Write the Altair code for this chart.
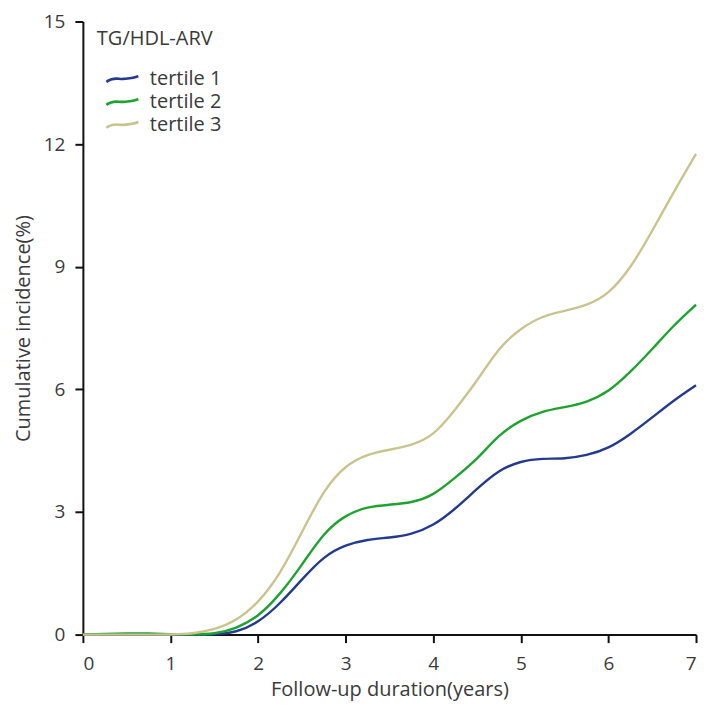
import altair as alt
import pandas as pd

years = [0, 0.25, 0.5, 0.75, 1.0, 1.25, 1.5, 1.75, 2.0, 2.25, 2.5, 2.75, 3.0,
         3.25, 3.5, 3.75, 4.0, 4.25, 4.5, 4.75, 5.0, 5.25, 5.5, 5.75, 6.0,
         6.25, 6.5, 6.75, 7.0]

tertile1 = [0, 0, 0, 0, 0, 0, 0.0, 0.05, 0.29, 0.75, 1.35, 1.92, 2.2,
            2.33, 2.37, 2.45, 2.66, 3.07, 3.57, 4.03, 4.25, 4.31, 4.3, 4.38, 4.55,
            4.9, 5.31, 5.74, 6.1]
tertile2 = [0, 0.02, 0.03, 0.03, 0.01, 0.0, 0.01, 0.15, 0.43, 0.98, 1.7, 2.5, 2.93,
            3.13, 3.18, 3.22, 3.4, 3.84, 4.28, 4.9, 5.25, 5.47, 5.56, 5.68, 5.93,
            6.42, 6.98, 7.58, 8.07]
tertile3 = [0, 0, 0, 0, 0, 0.02, 0.12, 0.33, 0.77, 1.47, 2.5, 3.55, 4.15,
            4.42, 4.52, 4.63, 4.85, 5.5, 6.2, 7.03, 7.5, 7.8, 7.92, 8.05, 8.32,
            8.95, 9.87, 10.85, 11.76]

series_names = ["tertile 1", "tertile 2", "tertile 3"]
series_colors = ["#233a8e", "#1fa32f", "#c9c48e"]
x_ticks = [0, 1, 2, 3, 4, 5, 6, 7]
y_ticks = [0, 3, 6, 9, 12, 15]

rows = []
for name, vals in zip(series_names, [tertile1, tertile2, tertile3]):
    for x, v in zip(years, vals):
        rows.append({"year": x, "value": v, "group": name})
df = pd.DataFrame(rows)

# wavy legend glyph (unit = half the symbol box)
wave = "M-0.2,0.3 C0.5,-0.25 1.0,0.05 1.5,0.0 C2.1,-0.05 2.5,-0.05 3.0,-0.28"

TEXT = "#3a3a3a"

chart = alt.Chart(df).mark_line(interpolate="basis", strokeWidth=2.4).encode(
    x=alt.X("year:Q",
            scale=alt.Scale(domain=[0, 7], nice=False, zero=False),
            axis=alt.Axis(values=x_ticks, title="Follow-up duration(years)",
                          format="d")),
    y=alt.Y("value:Q",
            scale=alt.Scale(domain=[0, 15], nice=False),
            axis=alt.Axis(values=y_ticks, title="Cumulative incidence(%)",
                          format="d")),
    color=alt.Color("group:N",
                    scale=alt.Scale(domain=series_names, range=series_colors),
                    legend=alt.Legend(title="TG/HDL-ARV", orient="none",
                                      legendX=14, legendY=8,
                                      symbolType=wave, symbolSize=400,
                                      symbolStrokeWidth=2.6,
                                      symbolFillColor="transparent",
                                      labelOffset=30, rowPadding=1,
                                      titlePadding=18,
                                      titleFontSize=20, labelFontSize=20,
                                      titleFont="Open Sans", labelFont="Open Sans",
                                      titleFontWeight="normal",
                                      titleColor=TEXT, labelColor=TEXT)),
    order=alt.Order("year:Q"),
).properties(
    width=614, height=614,
    autosize=alt.AutoSizeParams(type="none"),
    padding={"left": 75, "top": 13, "right": 5, "bottom": 70},
).configure_view(stroke=None).configure_axis(
    grid=False,
    domainColor="#111111", domainWidth=2,
    tickColor="#111111", tickWidth=2, tickSize=8,
    labelFont="Open Sans", labelFontSize=19, labelColor=TEXT,
    titleFont="Open Sans", titleFontSize=20, titleColor=TEXT,
    titleFontWeight="normal",
).configure_axisX(labelPadding=12, titlePadding=6).configure_axisY(
    labelPadding=10, titlePadding=10)

chart.save("out.html", embed_options={"renderer": "svg", "actions": False})
